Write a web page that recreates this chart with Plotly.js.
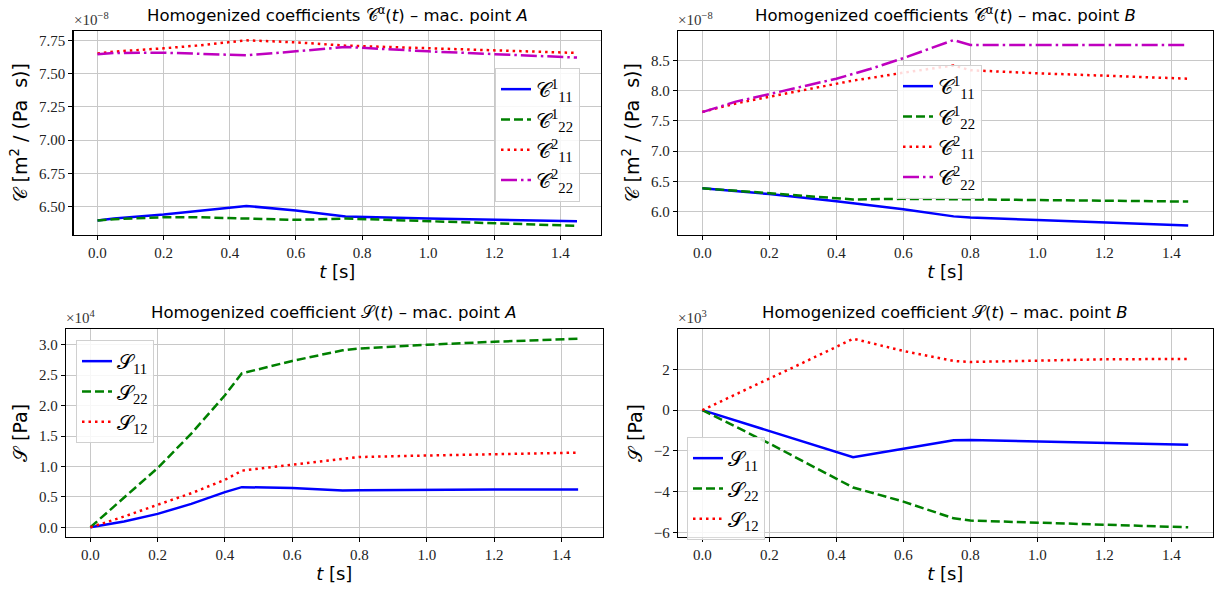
<!DOCTYPE html>
<html>
<head>
<meta charset="utf-8">
<script src="https://cdn.plot.ly/plotly-3.0.1.min.js"></script>
<style>html,body{margin:0;padding:0;background:#fff;}#chart{width:1219px;height:591px;}</style>
</head>
<body>
<div id="chart"></div>
<script>
// ---- data (C values in units of 1e-8 m^2/(Pa s), S values in units shown by multiplier) ----
const tA_C = [0, 0.05, 0.2, 0.3, 0.45, 0.6, 0.75, 1.0, 1.2, 1.45];
const C11_1_A = [6.395, 6.41, 6.44, 6.465, 6.505, 6.47, 6.425, 6.41, 6.40, 6.39];
const C22_1_A = [6.395, 6.405, 6.42, 6.42, 6.41, 6.40, 6.41, 6.39, 6.375, 6.355];
const C11_2_A = [7.65, 7.665, 7.69, 7.71, 7.75, 7.735, 7.71, 7.69, 7.67, 7.655];
const C22_2_A = [7.645, 7.655, 7.657, 7.65, 7.637, 7.667, 7.70, 7.667, 7.645, 7.62];

const tB_C = [0, 0.1, 0.2, 0.4, 0.45, 0.5, 0.6, 0.75, 0.8, 1.0, 1.2, 1.45];
const C11_1_B = [6.386, 6.34, 6.29, 6.17, 6.14, 6.11, 6.04, 5.92, 5.90, 5.86, 5.82, 5.77];
const C22_1_B = [6.386, 6.345, 6.30, 6.22, 6.20, 6.205, 6.21, 6.205, 6.20, 6.19, 6.18, 6.165];
const C11_2_B = [7.65, 7.79, 7.90, 8.12, 8.17, 8.21, 8.30, 8.42, 8.34, 8.29, 8.245, 8.20];
const C22_2_B = [7.647, 7.82, 7.945, 8.20, 8.28, 8.36, 8.54, 8.84, 8.76, 8.76, 8.76, 8.76];

const t_S = [0, 0.1, 0.2, 0.3, 0.4, 0.45, 0.6, 0.75, 0.8, 1.0, 1.2, 1.45];
const S11_A = [0, 0.094, 0.22, 0.385, 0.578, 0.66, 0.645, 0.605, 0.61, 0.62, 0.62, 0.62];
const S22_A = [0, 0.48, 0.974, 1.54, 2.17, 2.53, 2.735, 2.91, 2.94, 3.0, 3.05, 3.10];
const S12_A = [0, 0.176, 0.37, 0.56, 0.78, 0.93, 1.03, 1.13, 1.155, 1.18, 1.205, 1.227];

const S11_B = [0, -0.51, -1.03, -1.54, -2.05, -2.31, -1.89, -1.48, -1.46, -1.52, -1.60, -1.69];
const S22_B = [0, -0.80, -1.63, -2.50, -3.35, -3.79, -4.48, -5.3, -5.41, -5.52, -5.62, -5.74];
const S12_B = [0, 0.76, 1.53, 2.32, 3.10, 3.5, 2.9, 2.41, 2.36, 2.44, 2.49, 2.51];

const C_names = ['𝒞<sup>1</sup><sub>11</sub>', '𝒞<sup>1</sup><sub>22</sub>', '𝒞<sup>2</sup><sub>11</sub>', '𝒞<sup>2</sup><sub>22</sub>'];
const S_names = ['𝒮<sub>11</sub>', '𝒮<sub>22</sub>', '𝒮<sub>12</sub>'];
const multipliers = ['×10<sup>−8</sup>', '×10<sup>−8</sup>', '×10<sup>4</sup>', '×10<sup>3</sup>'];
const titles = [
  'Homogenized coefficients 𝒞<sup>α</sup>(<i>t</i>) – mac. point <i>A</i>',
  'Homogenized coefficients 𝒞<sup>α</sup>(<i>t</i>) – mac. point <i>B</i>',
  'Homogenized coefficient 𝒮(<i>t</i>) – mac. point <i>A</i>',
  'Homogenized coefficient 𝒮(<i>t</i>) – mac. point <i>B</i>'
];

// ---- styles ----
const BLUE = '#0000ff', GREEN = '#008000', RED = '#ff0000', MAG = '#bf00bf';
const LW = 2.5;
const DASH = '9px,4px', DOT = '2.5px,4px', DASHDOT = '16px,4px,2.5px,4px';
const sansFont = 'DejaVu Sans, sans-serif';
const serifFont = 'Liberation Serif, DejaVu Serif, serif';

function tr(x, y, name, color, dash, xa, ya, lg) {
  return {x: x, y: y, name: name, type: 'scatter', mode: 'lines',
    line: {color: color, width: LW, dash: dash}, xaxis: xa, yaxis: ya, legend: lg};
}

const data = [
  tr(tA_C, C11_1_A, C_names[0], BLUE, 'solid', 'x', 'y', 'legend'),
  tr(tA_C, C22_1_A, C_names[1], GREEN, DASH, 'x', 'y', 'legend'),
  tr(tA_C, C11_2_A, C_names[2], RED, DOT, 'x', 'y', 'legend'),
  tr(tA_C, C22_2_A, C_names[3], MAG, DASHDOT, 'x', 'y', 'legend'),
  tr(tB_C, C11_1_B, C_names[0], BLUE, 'solid', 'x2', 'y2', 'legend2'),
  tr(tB_C, C22_1_B, C_names[1], GREEN, DASH, 'x2', 'y2', 'legend2'),
  tr(tB_C, C11_2_B, C_names[2], RED, DOT, 'x2', 'y2', 'legend2'),
  tr(tB_C, C22_2_B, C_names[3], MAG, DASHDOT, 'x2', 'y2', 'legend2'),
  tr(t_S, S11_A, S_names[0], BLUE, 'solid', 'x3', 'y3', 'legend3'),
  tr(t_S, S22_A, S_names[1], GREEN, DASH, 'x3', 'y3', 'legend3'),
  tr(t_S, S12_A, S_names[2], RED, DOT, 'x3', 'y3', 'legend3'),
  tr(t_S, S11_B, S_names[0], BLUE, 'solid', 'x4', 'y4', 'legend4'),
  tr(t_S, S22_B, S_names[1], GREEN, DASH, 'x4', 'y4', 'legend4'),
  tr(t_S, S12_B, S_names[2], RED, DOT, 'x4', 'y4', 'legend4')
];

const W = 1219, H = 591;
const px = v => v / W, py = v => 1 - v / H;

function xaxis(dom, anchor) {
  return {domain: dom, anchor: anchor, range: [-0.0725, 1.5225], tickvals: [0,0.2,0.4,0.6,0.8,1.0,1.2,1.4],
    tickformat: '.1f', showgrid: true, gridcolor: '#c8c8c8', gridwidth: 1, zeroline: false,
    showline: true, linecolor: '#000', linewidth: 1.3, mirror: true, ticks: 'outside', ticklen: 4, tickcolor: '#000',
    tickfont: {family: serifFont, size: 15, color: '#222'},
    title: {text: '<i>t</i> [s]', font: {family: sansFont, size: 18, color: '#000'}, standoff: 5}};
}
function yaxis(dom, anchor, range, dtick, fmt, title) {
  return {domain: dom, anchor: anchor, range: range, dtick: dtick, tick0: 0, tickformat: fmt,
    showgrid: true, gridcolor: '#c8c8c8', gridwidth: 1, zeroline: false,
    showline: true, linecolor: '#000', linewidth: 1.3, mirror: true, ticks: 'outside', ticklen: 4, tickcolor: '#000',
    tickfont: {family: serifFont, size: 15, color: '#222'},
    title: {text: title, font: {family: sansFont, size: 19, color: '#000'}, standoff: 6}};
}
function legend(x0, y0) {
  return {x: px(x0), y: py(y0), xanchor: 'left', yanchor: 'top', bgcolor: 'rgba(255,255,255,0.85)',
    bordercolor: '#d0d0d0', borderwidth: 1, font: {family: serifFont, size: 21, color: '#000'},
    tracegroupgap: 0, itemwidth: 30};
}

const colL = [px(73.5), px(601)], colL2 = [px(66), px(602.5)], colR = [px(678), px(1212.5)];
const rowT = [py(234.5), py(31)], rowB = [py(536.7), py(329.3)];

const annotations = [];
const titlePos = [[337, 14], [945, 14], [334, 312], [945, 312]];
titles.forEach((t, i) => annotations.push({text: t, x: px(titlePos[i][0]), y: py(titlePos[i][1]), xref: 'paper', yref: 'paper',
  showarrow: false, xanchor: 'center', yanchor: 'middle', font: {family: sansFont, size: 16.5, color: '#000'}}));
const multPos = [[72, 19], [676, 19], [64, 317], [676, 317]];
multipliers.forEach((m, i) => annotations.push({text: m, x: px(multPos[i][0]), y: py(multPos[i][1]), xref: 'paper', yref: 'paper',
  showarrow: false, xanchor: 'left', yanchor: 'middle', font: {family: serifFont, size: 15, color: '#333'}}));

const layout = {
  width: W, height: H, margin: {l: 0, r: 0, t: 0, b: 0}, paper_bgcolor: '#fff', plot_bgcolor: '#fff',
  showlegend: true,
  xaxis: xaxis(colL, 'y'), yaxis: yaxis(rowT, 'x', [6.29, 7.82], 0.25, '.2f', '𝒞 [m<sup>2</sup> / (Pa  s)]'),
  xaxis2: xaxis(colR, 'y2'), yaxis2: yaxis(rowT, 'x2', [5.62, 8.99], 0.5, '.1f', '𝒞 [m<sup>2</sup> / (Pa  s)]'),
  xaxis3: xaxis(colL2, 'y3'), yaxis3: yaxis(rowB, 'x3', [-0.155, 3.255], 0.5, '.1f', '𝒮 [Pa]'),
  xaxis4: xaxis(colR, 'y4'), yaxis4: yaxis(rowB, 'x4', [-6.2, 3.96], 2, 'd', '𝒮 [Pa]'),
  legend: legend(495, 68), legend2: legend(897, 65), legend3: legend(76, 340), legend4: legend(687, 437),
  annotations: annotations
};

Plotly.newPlot('chart', data, layout, {staticPlot: true, displayModeBar: false});
</script>
</body>
</html>
